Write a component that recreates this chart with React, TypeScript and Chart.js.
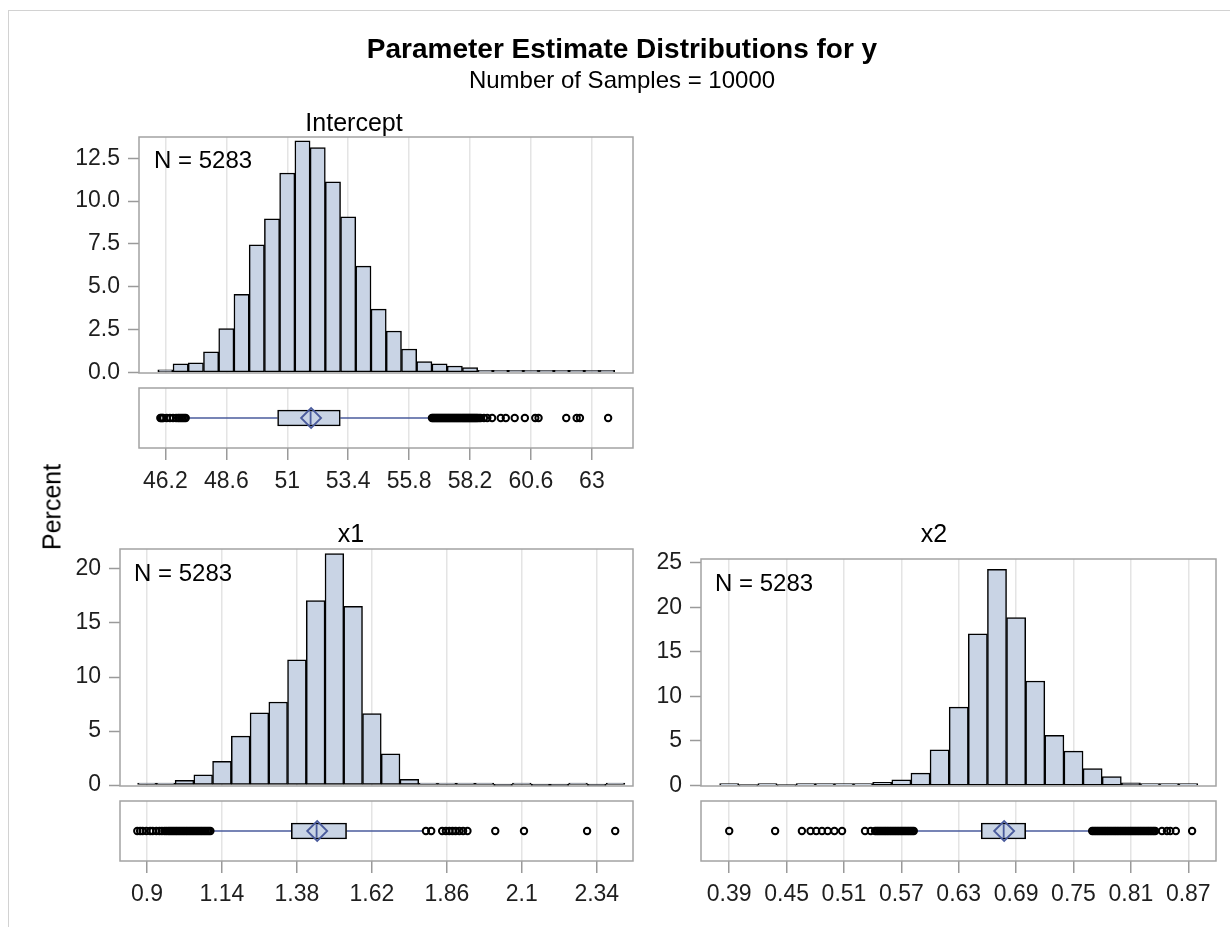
import React, { useEffect, useRef } from 'react';
import { Chart, registerables } from 'chart.js';

Chart.register(...registerables);

// ---------------- data ----------------
// Intercept
const interceptBins = [46.2, 46.8, 47.4, 48.0, 48.6, 49.2, 49.8, 50.4, 51.0, 51.6, 52.2, 52.8, 53.4, 54.0, 54.6, 55.2, 55.8, 56.4, 57.0, 57.6, 58.2, 58.8, 59.4, 60.0, 60.6, 61.2, 61.8, 62.4, 63.0, 63.6];
const interceptPercent = [0.14, 0.49, 0.55, 1.2, 2.55, 4.55, 7.45, 8.96, 11.64, 13.51, 13.12, 11.12, 9.08, 6.2, 3.69, 2.41, 1.36, 0.62, 0.49, 0.37, 0.27, 0.08, 0.04, 0.04, 0.02, 0.02, 0.02, 0.06, 0.02, 0.02];
const interceptXTicks = [46.2, 48.6, 51, 53.4, 55.8, 58.2, 60.6, 63];
const interceptXLabels = ['46.2', '48.6', '51', '53.4', '55.8', '58.2', '60.6', '63'];
const interceptYTicks = [0, 2.5, 5, 7.5, 10, 12.5];
const interceptYLabels = ['0.0', '2.5', '5.0', '7.5', '10.0', '12.5'];
// whisker low, Q1, median, Q3, whisker high
const interceptBox = [47.06, 50.62, 51.92, 53.09, 56.63];
const interceptMean = 51.94;
const interceptOutliers = [
  46.0, 46.04, 46.08, 46.12, 46.25, 46.38, 46.5, 46.62, 46.7, 46.76, 46.82, 46.88, 46.94, 47.0,
  56.70, 56.74, 56.78, 56.82, 56.86, 56.90, 56.94, 56.98, 57.02, 57.06, 57.10, 57.14, 57.18, 57.22, 57.26, 57.30,
  57.34, 57.38, 57.42, 57.46, 57.50, 57.54, 57.58, 57.62, 57.66, 57.70, 57.74, 57.78, 57.82, 57.86, 57.90, 57.94,
  57.98, 58.02, 58.06, 58.10, 58.14, 58.18, 58.22, 58.26, 58.30, 58.34, 58.38, 58.42, 58.46, 58.50, 58.56, 58.62,
  58.75, 58.88, 59.07, 59.41, 59.61, 59.96, 60.36, 60.77, 60.9, 61.99, 62.4, 62.53, 63.64];

// x1
const x1Bins = [0.90, 0.96, 1.02, 1.08, 1.14, 1.20, 1.26, 1.32, 1.38, 1.44, 1.50, 1.56, 1.62, 1.68, 1.74, 1.80, 1.86, 1.92, 1.98, 2.04, 2.10, 2.16, 2.22, 2.28, 2.34, 2.40];
const x1Percent = [0.15, 0.15, 0.43, 0.95, 2.2, 4.52, 6.68, 7.69, 11.6, 17.08, 21.42, 16.55, 6.62, 2.89, 0.52, 0.12, 0.09, 0.08, 0.02, 0, 0.02, 0, 0, 0.02, 0, 0.02];
const x1XTicks = [0.9, 1.14, 1.38, 1.62, 1.86, 2.1, 2.34];
const x1XLabels = ['0.9', '1.14', '1.38', '1.62', '1.86', '2.1', '2.34'];
const x1YTicks = [0, 5, 10, 15, 20];
const x1YLabels = ['0', '5', '10', '15', '20'];
const x1Box = [1.11, 1.362, 1.443, 1.539, 1.782];
const x1Mean = 1.445;
const x1Outliers = [
  0.869, 0.878, 0.886, 0.898, 0.91, 0.918, 0.93, 0.94, 0.948, 0.956, 0.962, 0.968, 0.973, 0.978, 0.983, 0.988,
  0.993, 0.998, 1.003, 1.008, 1.013, 1.018, 1.023, 1.028, 1.033, 1.038, 1.043, 1.048, 1.053, 1.058, 1.063, 1.068,
  1.073, 1.078, 1.083, 1.088, 1.093, 1.098, 1.103,
  1.793, 1.81, 1.845, 1.857, 1.868, 1.878, 1.888, 1.9, 1.912, 1.926, 2.015, 2.107, 2.309, 2.399];

// x2
const x2Bins = [0.39, 0.41, 0.43, 0.45, 0.47, 0.49, 0.51, 0.53, 0.55, 0.57, 0.59, 0.61, 0.63, 0.65, 0.67, 0.69, 0.71, 0.73, 0.75, 0.77, 0.79, 0.81, 0.83, 0.85, 0.87];
const x2Percent = [0.02, 0, 0.02, 0, 0.04, 0.06, 0.04, 0.15, 0.37, 0.64, 1.39, 4.0, 8.8, 17.0, 24.25, 18.84, 11.72, 5.62, 3.86, 1.91, 1.01, 0.3, 0.22, 0.08, 0.04];
const x2XTicks = [0.39, 0.45, 0.51, 0.57, 0.63, 0.69, 0.75, 0.81, 0.87];
const x2XLabels = ['0.39', '0.45', '0.51', '0.57', '0.63', '0.69', '0.75', '0.81', '0.87'];
const x2YTicks = [0, 5, 10, 15, 20, 25];
const x2YLabels = ['0', '5', '10', '15', '20', '25'];
const x2Box = [0.586, 0.6535, 0.677, 0.7, 0.767];
const x2Mean = 0.6775;
const x2Outliers = [
  0.39, 0.438, 0.466, 0.475, 0.481, 0.487, 0.493, 0.5, 0.508, 0.532, 0.538,
  0.5425, 0.544, 0.5455, 0.547, 0.5485, 0.55, 0.5515, 0.553, 0.5545, 0.556, 0.5575, 0.559, 0.5605, 0.562,
  0.5635, 0.565, 0.5665, 0.568, 0.5695, 0.571, 0.5725, 0.574, 0.5755, 0.577, 0.5785, 0.58, 0.5815, 0.583,
  0.7695, 0.771, 0.7725, 0.774, 0.7755, 0.777, 0.7785, 0.78, 0.7815, 0.783, 0.7845, 0.786, 0.7875, 0.789,
  0.7905, 0.792, 0.7935, 0.795, 0.7965, 0.798, 0.7995, 0.801, 0.8025, 0.804, 0.8055, 0.807, 0.8085, 0.81,
  0.8115, 0.813, 0.8145, 0.816, 0.8175, 0.819, 0.8205, 0.822, 0.8235, 0.825, 0.8265, 0.828, 0.8295, 0.831,
  0.8325, 0.834, 0.8355, 0.8425, 0.8477, 0.8512, 0.857, 0.874];

const sampleCountLabel = 'N = 5283';

// ---------------- styling / layout ----------------
const W = 1230;
const H = 927;
const FONT = "'Liberation Sans', Arial, Helvetica, sans-serif";
const FILL = '#c9d4e5';
const GRID = '#e4e4e4';
const FRAME = '#a3a3a3';
const TICK = '#9a9a9a';
const TEXT = '#1e1e1e';
const BLUE = '#4a5b9c';
const Y_AXIS_W = 100;  // space reserved for y tick labels (left of frame)
const X_AXIS_H = 60;   // space reserved for x tick labels (below box frame)

type Frame = { left: number; right: number; top: number; bottom: number };

const framePlugin = {
  id: 'panelFrame',
  afterDraw(chart: any) {
    const { ctx, chartArea: a } = chart;
    ctx.save();
    ctx.strokeStyle = FRAME;
    ctx.lineWidth = 1.5;
    ctx.strokeRect(a.left, a.top, a.right - a.left, a.bottom - a.top);
    ctx.restore();
  },
};

function histConfig(p: {
  frame: Frame; xMin: number; xMax: number; yMin: number; yMax: number;
  bins: number[]; values: number[]; xTicks: number[]; yTicks: number[]; yLabels: string[];
}): any {
  const f = p.frame;
  return {
    type: 'bar',
    data: {
      datasets: [{
        data: p.bins.map((b, i) => ({ x: b, y: p.values[i] })),
        backgroundColor: FILL,
        borderColor: '#000000',
        borderWidth: 1.5,
        borderSkipped: false,
        barPercentage: 1,
        categoryPercentage: 1,
        minBarLength: 2,
      }],
    },
    options: {
      responsive: false,
      animation: false,
      events: [],
      layout: { padding: { left: f.left - Y_AXIS_W, top: f.top, right: W - f.right, bottom: H - f.bottom } },
      plugins: { legend: { display: false }, tooltip: { enabled: false } },
      scales: {
        x: {
          type: 'linear', min: p.xMin, max: p.xMax, offset: false,
          grid: { offset: false, color: GRID, lineWidth: 1.5, drawTicks: false },
          border: { display: false },
          ticks: { display: false },
          afterBuildTicks: (s: any) => { s.ticks = p.xTicks.map((v) => ({ value: v })); },
          afterFit: (s: any) => { s.height = 0; },
        },
        y: {
          type: 'linear', min: p.yMin, max: p.yMax,
          grid: { drawOnChartArea: false, drawTicks: true, tickLength: 11, tickColor: TICK, tickWidth: 1.5 },
          border: { display: false },
          ticks: {
            padding: 8, color: TEXT, font: { family: FONT, size: 23 },
            callback: (_v: any, i: number) => p.yLabels[i],
          },
          afterBuildTicks: (s: any) => { s.ticks = p.yTicks.map((v) => ({ value: v })); },
          afterFit: (s: any) => { s.width = Y_AXIS_W; },
        },
      },
    },
    plugins: [framePlugin],
  };
}

function boxConfig(p: {
  frame: Frame; xMin: number; xMax: number; box: number[]; mean: number; outliers: number[];
  xTicks: number[]; xLabels: string[];
}): any {
  const f = p.frame;
  const [wLo, q1, med, q3, wHi] = p.box;
  const half = 10 / (f.bottom - f.top);
  return {
    type: 'scatter',
    data: {
      datasets: [
        {
          type: 'scatter', data: [{ x: p.mean, y: 0.5 }], pointStyle: 'rectRot', pointRadius: 10,
          borderColor: BLUE, borderWidth: 1.8, backgroundColor: 'rgba(0,0,0,0)',
        },
        {
          type: 'scatter', showLine: true, data: [{ x: med, y: 0.5 - half }, { x: med, y: 0.5 + half }],
          borderColor: BLUE, borderWidth: 1.8, pointRadius: 0,
        },
        {
          type: 'scatter', data: p.outliers.map((v) => ({ x: v, y: 0.5 })), pointStyle: 'circle',
          pointRadius: 3.2, borderWidth: 2, borderColor: '#000000', backgroundColor: 'rgba(255,255,255,0)',
        },
        {
          type: 'bar', indexAxis: 'y', data: [{ x: [q1, q3], y: 0.5 }],
          backgroundColor: FILL, borderColor: '#000000', borderWidth: 1.6, borderSkipped: false, barThickness: 16,
        },
        {
          type: 'scatter', showLine: true, data: [{ x: wLo, y: 0.5 }, { x: q1, y: 0.5 }],
          borderColor: BLUE, borderWidth: 1.5, pointRadius: 0,
        },
        {
          type: 'scatter', showLine: true, data: [{ x: q3, y: 0.5 }, { x: wHi, y: 0.5 }],
          borderColor: BLUE, borderWidth: 1.5, pointRadius: 0,
        },
      ],
    },
    options: {
      responsive: false,
      animation: false,
      events: [],
      layout: { padding: { left: f.left, top: f.top, right: W - f.right, bottom: H - f.bottom - X_AXIS_H } },
      plugins: { legend: { display: false }, tooltip: { enabled: false } },
      scales: {
        x: {
          type: 'linear', min: p.xMin, max: p.xMax, offset: false,
          grid: { offset: false, color: GRID, lineWidth: 1.5, drawTicks: true, tickLength: 12, tickColor: TICK, tickWidth: 1.5 },
          border: { display: false },
          ticks: {
            autoSkip: false, maxRotation: 0, padding: 8, color: TEXT, font: { family: FONT, size: 23 },
            callback: (_v: any, i: number) => p.xLabels[i],
          },
          afterBuildTicks: (s: any) => { s.ticks = p.xTicks.map((v) => ({ value: v })); },
          afterFit: (s: any) => { s.height = X_AXIS_H; },
        },
        y: { type: 'linear', min: 0, max: 1, display: false },
      },
    },
    plugins: [framePlugin],
  };
}

const interceptX = { xMin: 45.16, xMax: 64.62 };
const x1X = { xMin: 0.8136, xMax: 2.456 };
const x2X = { xMin: 0.3605, xMax: 0.899 };

const configs: any[] = [
  histConfig({
    frame: { left: 139, right: 633, top: 137, bottom: 373 }, ...interceptX, yMin: -0.04, yMax: 13.74,
    bins: interceptBins, values: interceptPercent, xTicks: interceptXTicks, yTicks: interceptYTicks, yLabels: interceptYLabels,
  }),
  boxConfig({
    frame: { left: 139, right: 633, top: 388, bottom: 448 }, ...interceptX,
    box: interceptBox, mean: interceptMean, outliers: interceptOutliers, xTicks: interceptXTicks, xLabels: interceptXLabels,
  }),
  histConfig({
    frame: { left: 120, right: 633, top: 549, bottom: 786 }, ...x1X, yMin: -0.09, yMax: 21.85,
    bins: x1Bins, values: x1Percent, xTicks: x1XTicks, yTicks: x1YTicks, yLabels: x1YLabels,
  }),
  boxConfig({
    frame: { left: 120, right: 633, top: 801, bottom: 861 }, ...x1X,
    box: x1Box, mean: x1Mean, outliers: x1Outliers, xTicks: x1XTicks, xLabels: x1XLabels,
  }),
  histConfig({
    frame: { left: 701, right: 1216, top: 559, bottom: 786 }, ...x2X, yMin: -0.05, yMax: 25.4,
    bins: x2Bins, values: x2Percent, xTicks: x2XTicks, yTicks: x2YTicks, yLabels: x2YLabels,
  }),
  boxConfig({
    frame: { left: 701, right: 1216, top: 801, bottom: 861 }, ...x2X,
    box: x2Box, mean: x2Mean, outliers: x2Outliers, xTicks: x2XTicks, xLabels: x2XLabels,
  }),
];

function Panel({ config }: { config: any }) {
  const ref = useRef<HTMLCanvasElement | null>(null);
  useEffect(() => {
    if (!ref.current) return;
    const chart = new Chart(ref.current, config);
    return () => chart.destroy();
  }, [config]);
  return (
    <canvas
      ref={ref}
      width={W}
      height={H}
      style={{ position: 'absolute', left: 0, top: 0, width: W, height: H }}
    />
  );
}

function Label(props: { x: number; y: number; size: number; bold?: boolean; rotate?: boolean; anchor?: 'center' | 'left'; children: React.ReactNode }) {
  const { x, y, size, bold, rotate, anchor = 'center' } = props;
  const tx = anchor === 'center' ? '-50%' : '0';
  return (
    <div
      style={{
        position: 'absolute', left: x, top: y, whiteSpace: 'nowrap',
        fontFamily: FONT, fontSize: size, lineHeight: 1, fontWeight: bold ? 'bold' : 'normal', color: '#000',
        transform: `translate(${tx}, -50%)${rotate ? ' rotate(-90deg)' : ''}`,
        transformOrigin: 'center center',
      }}
    >
      {props.children}
    </div>
  );
}

export default function App() {
  return (
    <div style={{ position: 'absolute', left: 0, top: 0, width: W, height: H, overflow: 'hidden', background: '#ffffff' }}>
      <div style={{ position: 'absolute', left: 8, top: 10, width: W - 8, height: H - 10, boxSizing: 'border-box', borderLeft: '1.5px solid #d2d2d2', borderTop: '1.5px solid #d2d2d2' }} />
      {configs.map((c, i) => <Panel key={i} config={c} />)}
      <Label x={622} y={49} size={28} bold>Parameter Estimate Distributions for y</Label>
      <Label x={622} y={80} size={24}>Number of Samples = 10000</Label>
      <Label x={354} y={122} size={25}>Intercept</Label>
      <Label x={351} y={533} size={25}>x1</Label>
      <Label x={934} y={533} size={25}>x2</Label>
      <Label x={52} y={507} size={25} rotate>Percent</Label>
      <Label x={154} y={160} size={24} anchor="left">{sampleCountLabel}</Label>
      <Label x={134} y={573} size={24} anchor="left">{sampleCountLabel}</Label>
      <Label x={715} y={583} size={24} anchor="left">{sampleCountLabel}</Label>
    </div>
  );
}
